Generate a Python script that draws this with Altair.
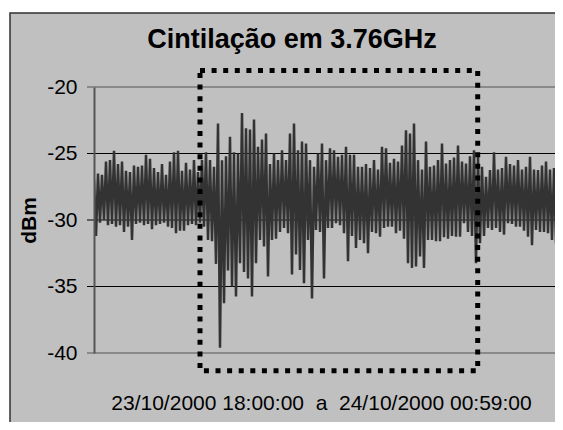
import altair as alt
import pandas as pd

title_text = "Cintilação em 3.76GHz"
y_title = "dBm"
x_title = "23/10/2000 18:00:00\u00a0\u00a0a\u00a0\u00a024/10/2000 00:59:00"
y_ticks = [-20, -25, -30, -35, -40]

# upper / lower swing of each oscillation (dBm)
highs = [-27.0, -26.5, -26.6, -25.6, -25.5, -24.8, -25.8, -25.6, -26.3, -26.4,
         -25.9, -26.0, -25.9, -25.1, -25.4, -26.1, -26.4, -25.8, -26.6, -25.6,
         -24.9, -24.8, -26.3, -25.7, -26.2, -25.5, -26.4, -25.5, -24.9, -25.5,
         -26.0, -22.75, -25.5, -25.2, -23.75, -24.9, -25.0, -21.95, -23.1, -23.2,
         -22.45, -24.5, -23.95, -23.5, -25.8, -25.0, -25.5, -24.75, -25.5, -23.5,
         -22.75, -24.75, -24.1, -24.25, -25.5, -26.0, -25.0, -24.25, -25.5, -24.6,
         -24.75, -25.25, -25.1, -24.5, -25.1, -25.1, -26.0, -26.0, -25.8, -26.1,
         -25.5, -26.2, -24.5, -24.6, -25.7, -25.4, -25.6, -24.4, -23.25, -23.5,
         -22.75, -25.5, -26.2, -24.1, -26.0, -25.9, -25.5, -24.25, -25.75, -25.5,
         -25.3, -24.4, -25.6, -25.75, -25.2, -24.75, -25.25, -26.0, -26.75, -26.25,
         -24.9, -26.2, -26.1, -25.25, -25.8, -25.9, -25.5, -26.2, -26.0, -25.25,
         -26.2, -26.25, -25.9, -25.6, -26.2, -26.1, -25.1, -26.2]
lows = [-31.2, -30.2, -30.0, -30.4, -30.3, -30.5, -30.4, -30.9, -30.5, -31.5,
        -30.3, -30.2, -30.4, -30.3, -30.7, -30.4, -30.3, -30.2, -30.5, -30.6,
        -31.0, -30.8, -30.8, -30.4, -30.3, -30.4, -30.2, -30.5, -31.5, -31.6,
        -33.3, -39.6, -36.25, -33.8, -35.0, -35.75, -33.25, -33.9, -34.4, -35.75,
        -33.25, -31.5, -32.0, -34.25, -31.5, -31.4, -30.9, -30.6, -31.0, -34.1,
        -32.6, -33.75, -34.75, -31.5, -35.9, -30.75, -30.9, -34.4, -30.6, -30.6,
        -30.25, -30.4, -31.0, -33.1, -31.2, -32.1, -31.5, -31.75, -32.5, -30.9,
        -31.0, -31.25, -30.6, -30.5, -30.5, -31.0, -30.8, -31.4, -33.25, -33.6,
        -33.5, -32.75, -33.6, -31.5, -31.5, -31.6, -31.6, -31.3, -31.4, -31.2,
        -31.25, -31.25, -30.25, -30.9, -31.2, -33.25, -31.75, -31.2, -30.6, -30.75,
        -30.6, -30.9, -31.1, -30.25, -30.3, -30.5, -30.5, -30.8, -31.25, -31.9,
        -30.75, -30.9, -30.9, -31.0, -31.5, -31.75, -30.9, -30.75]

# highlighted interval (sample index range and dBm range of the dotted box)
box_t = [53, 191.85]
box_db = [-18.75, -41.33]

series = []
for h, l in zip(highs, lows):
    series += [h, l]
df = pd.DataFrame({"t": list(range(len(series))), "dBm": series})
grid_df = pd.DataFrame({"v": y_ticks})
box_df = pd.DataFrame({"t0": [box_t[0]], "t1": [box_t[1]], "top": [box_db[0]], "bottom": [box_db[1]]})
title_df = pd.DataFrame({"label": [title_text]})

W, H = 461, 266
FONT = "Liberation Sans"
xscale = alt.Scale(domain=[0, W / 2], nice=False, zero=False)
yscale = alt.Scale(domain=[-40, -20], nice=False, zero=False)

yaxis = alt.Axis(values=y_ticks, title=y_title, ticks=False, grid=False, zindex=2,
                 labelExpr="'' + datum.value",
                 domainColor="#555555", domainWidth=2,
                 labelFont=FONT, labelFontSize=21, labelColor="black", labelPadding=17,
                 titleFont=FONT, titleFontSize=21, titleFontWeight="bold", titleColor="black",
                 titleAngle=270, titleX=-64.5, titleY=133, titleBaseline="middle", titleAlign="center")
xaxis = alt.Axis(title=x_title, ticks=False, labels=False, domain=False, grid=False, zindex=2,
                 titleFont=FONT, titleFontSize=21, titleFontWeight="normal", titleColor="black",
                 titleX=227, titleY=50, titleBaseline="middle", titleAlign="center")

frame = alt.Chart(pd.DataFrame({"a": [0]})).mark_rect(
    fill="#c0c0c0", stroke="#303030", strokeWidth=1.5
).encode(x=alt.value(-84), x2=alt.value(W + 20), y=alt.value(-74), y2=alt.value(H + 120))

title = alt.Chart(title_df).mark_text(
    font=FONT, fontSize=27, fontWeight="bold", color="black", align="center", baseline="middle"
).encode(text="label:N", x=alt.value(292 - 94), y=alt.value(40 - 87))

is_border = "datum.v == -20 || datum.v == -40"
grid = alt.Chart(grid_df).mark_rule().encode(
    y=alt.Y("v:Q", scale=yscale, axis=yaxis),
    x=alt.value(-7), x2=alt.value(W),
    color=alt.condition(is_border, alt.value("#8a8a8a"), alt.value("#000000")),
    strokeWidth=alt.condition(is_border, alt.value(2), alt.value(1)),
)

line = alt.Chart(df).mark_line(color="#333333", strokeWidth=2.5, clip=True).encode(
    x=alt.X("t:Q", scale=xscale, axis=xaxis),
    y=alt.Y("dBm:Q", scale=yscale, axis=yaxis),
)

box = alt.Chart(box_df).mark_rect(
    filled=False, stroke="black", strokeWidth=5, strokeDash=[5, 6.6], clip=False
).encode(
    x=alt.X("t0:Q", scale=xscale, axis=xaxis), x2="t1:Q",
    y=alt.Y("top:Q", scale=yscale, axis=yaxis), y2="bottom:Q",
)

chart = alt.layer(frame, title, grid, line, box).properties(
    width=W, height=H,
    autosize=alt.AutoSizeParams(type="none"),
    padding={"left": 86, "top": 79, "right": 0, "bottom": 69},
    background="white",
).configure_view(stroke=None, fill=None)

chart.save("out.html", embed_options={"renderer": "svg", "actions": False})
